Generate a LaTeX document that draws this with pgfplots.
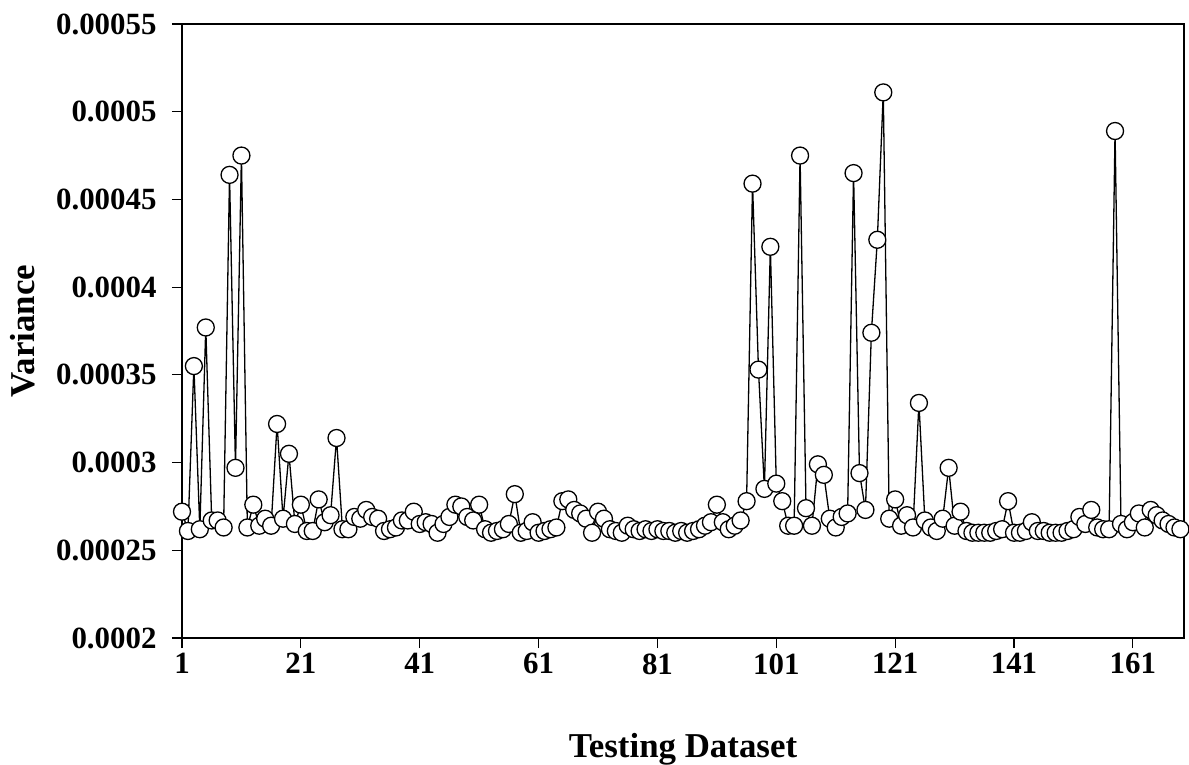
\documentclass[border=0pt]{standalone}
\usepackage{fontspec}
\setmainfont{Liberation Serif}
\usepackage{pgfplots}
\usepackage{pgfplotstable}
\pgfplotsset{compat=1.18}
\pgfplotstableread{
x y
1 0.000272
2 0.000261
3 0.000355
4 0.000262
5 0.000377
6 0.000267
7 0.000267
8 0.000263
9 0.000464
10 0.000297
11 0.000475
12 0.000263
13 0.000276
14 0.000264
15 0.000268
16 0.000264
17 0.000322
18 0.000268
19 0.000305
20 0.000265
21 0.000276
22 0.000261
23 0.000261
24 0.000279
25 0.000266
26 0.000270
27 0.000314
28 0.000262
29 0.000262
30 0.000269
31 0.000268
32 0.000273
33 0.000269
34 0.000268
35 0.000261
36 0.000262
37 0.000263
38 0.000267
39 0.000267
40 0.000272
41 0.000265
42 0.000266
43 0.000265
44 0.000260
45 0.000265
46 0.000269
47 0.000276
48 0.000275
49 0.000269
50 0.000267
51 0.000276
52 0.000262
53 0.000260
54 0.000261
55 0.000262
56 0.000265
57 0.000282
58 0.000260
59 0.000261
60 0.000266
61 0.000260
62 0.000261
63 0.000262
64 0.000263
65 0.000278
66 0.000279
67 0.000273
68 0.000271
69 0.000268
70 0.000260
71 0.000272
72 0.000268
73 0.000262
74 0.000261
75 0.000260
76 0.000264
77 0.000262
78 0.000261
79 0.000262
80 0.000261
81 0.000262
82 0.000261
83 0.000261
84 0.000260
85 0.000261
86 0.000260
87 0.000261
88 0.000262
89 0.000264
90 0.000266
91 0.000276
92 0.000266
93 0.000262
94 0.000264
95 0.000267
96 0.000278
97 0.000459
98 0.000353
99 0.000285
100 0.000423
101 0.000288
102 0.000278
103 0.000264
104 0.000264
105 0.000475
106 0.000274
107 0.000264
108 0.000299
109 0.000293
110 0.000268
111 0.000263
112 0.000269
113 0.000271
114 0.000465
115 0.000294
116 0.000273
117 0.000374
118 0.000427
119 0.000511
120 0.000268
121 0.000279
122 0.000264
123 0.000270
124 0.000263
125 0.000334
126 0.000267
127 0.000263
128 0.000261
129 0.000268
130 0.000297
131 0.000264
132 0.000272
133 0.000261
134 0.000260
135 0.000260
136 0.000260
137 0.000260
138 0.000261
139 0.000262
140 0.000278
141 0.000260
142 0.000260
143 0.000261
144 0.000266
145 0.000261
146 0.000261
147 0.000260
148 0.000260
149 0.000260
150 0.000261
151 0.000262
152 0.000269
153 0.000265
154 0.000273
155 0.000263
156 0.000262
157 0.000262
158 0.000489
159 0.000265
160 0.000262
161 0.000266
162 0.000271
163 0.000263
164 0.000273
165 0.000270
166 0.000267
167 0.000265
168 0.000263
169 0.000262
}\datatable
\begin{document}
\begin{tikzpicture}
\useasboundingbox (-182bp,-127bp) rectangle (1007bp,638bp);
\begin{axis}[
  at={(0,0)}, anchor=south west,
  scale only axis,
  width=1002bp, height=614bp,
  xmin=1, xmax=169.6,
  ymin=0.0002, ymax=0.00055,
  xtick={1,21,41,61,81,101,121,141,161},
  xticklabels={1,21,41,61,81,101,121,141,161},
  ytick={0.0002,0.00025,0.0003,0.00035,0.0004,0.00045,0.0005,0.00055},
  yticklabels={0.0002,0.00025,0.0003,0.00035,0.0004,0.00045,0.0005,0.00055},
  scaled y ticks=false,
  scaled x ticks=false,
  tick align=outside,
  major tick length=10bp,
  xtick pos=bottom, ytick pos=left,
  axis line style={line width=1.5bp},
  tick style={line width=1.2bp, black},
  ticklabel style={font=\fontsize{31}{37}\selectfont\bfseries},
  xticklabel style={yshift=-2bp},
  yticklabel style={xshift=-12bp},
  xlabel={Testing Dataset},
  ylabel={Variance},
  label style={font=\fontsize{35}{42}\selectfont\bfseries},
  xlabel style={yshift=-52bp},
  ylabel style={yshift=14bp},
  clip=false,
]
\addplot[black, line width=1.3bp, mark=*, mark size=8.5bp,
  mark options={fill=white, draw=black, line width=1.3bp}] table[x=x,y=y] {\datatable};
\end{axis}
\end{tikzpicture}
\end{document}
